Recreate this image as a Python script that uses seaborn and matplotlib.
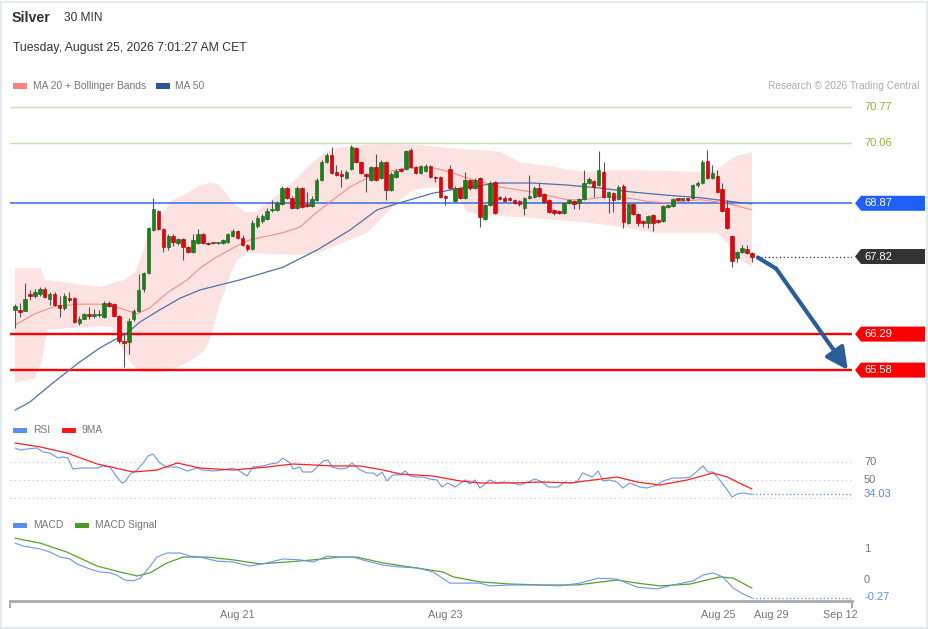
import numpy as np
import matplotlib
matplotlib.use('Agg')
import matplotlib.pyplot as plt
from matplotlib.patches import Polygon, Rectangle
from matplotlib.transforms import blended_transform_factory, Bbox, TransformedBbox
import seaborn as sns

# --- Silver 30 min candles (prices) ---
opens = [66.77, 66.77, 66.75, 67.08, 67.04, 67.08, 67.18, 66.98, 67.08, 66.86,
         66.81, 67.00, 67.00, 66.51, 66.59, 66.69, 66.65, 66.67, 66.63, 66.90,
         66.88, 66.65, 66.15, 66.13, 66.58, 66.75, 67.18, 67.50, 68.34, 68.72,
         68.36, 68.01, 68.23, 68.09, 68.17, 68.01, 67.91, 68.09, 68.27, 68.09,
         68.09, 68.08, 68.09, 68.11, 68.23, 68.32, 68.19, 68.05, 67.97, 68.42,
         68.52, 68.56, 68.74, 68.74, 68.86, 69.17, 68.98, 68.78, 69.17, 68.86,
         68.82, 68.94, 69.33, 69.68, 69.82, 69.49, 69.45, 69.37, 69.55, 69.96,
         69.68, 69.45, 69.33, 69.59, 69.37, 69.68, 69.13, 69.39, 69.55, 69.55,
         69.92, 69.59, 69.47, 69.51, 69.61, 69.39, 69.39, 69.01, 69.55, 68.92,
         69.17, 68.98, 69.33, 69.17, 69.37, 68.56, 68.84, 69.29, 68.98, 68.98,
         68.98, 68.94, 68.92, 68.78, 68.98, 69.00, 69.17, 69.05, 68.94, 68.74,
         68.72, 68.68, 68.88, 68.92, 68.88, 68.96, 69.27, 69.31, 69.23, 69.49,
         69.00, 69.07, 68.96, 69.21, 68.48, 68.86, 68.66, 68.52, 68.48, 68.64,
         68.54, 68.52, 68.80, 68.82, 68.96, 68.94, 68.96, 68.98, 69.23, 69.27,
         69.70, 69.37, 69.41, 69.15, 68.78, 68.23, 67.79, 67.91, 67.97, 67.89]
closes = [66.84, 66.73, 66.98, 67.04, 67.12, 67.18, 67.02, 67.08, 66.86, 66.81,
          67.04, 66.96, 66.53, 66.59, 66.69, 66.65, 66.69, 66.69, 66.90, 66.84,
          66.65, 66.15, 66.11, 66.55, 66.75, 67.16, 67.50, 68.38, 68.76, 68.36,
          68.01, 68.23, 68.11, 68.17, 68.01, 67.91, 68.15, 68.27, 68.09, 68.07,
          68.08, 68.09, 68.15, 68.27, 68.32, 68.19, 68.05, 67.97, 68.48, 68.58,
          68.62, 68.72, 68.76, 68.88, 69.17, 68.98, 68.78, 69.17, 68.80, 68.82,
          68.96, 69.33, 69.68, 69.82, 69.47, 69.43, 69.41, 69.49, 69.98, 69.68,
          69.47, 69.41, 69.59, 69.33, 69.68, 69.13, 69.45, 69.51, 69.51, 69.90,
          69.59, 69.47, 69.61, 69.61, 69.39, 69.37, 69.00, 68.98, 69.17, 69.17,
          68.98, 69.33, 69.17, 69.33, 68.60, 68.84, 69.27, 68.68, 68.96, 68.92,
          68.94, 68.88, 68.86, 68.98, 69.01, 69.17, 69.01, 68.90, 68.70, 68.68,
          68.68, 68.88, 68.94, 68.86, 68.96, 69.27, 69.35, 69.19, 69.53, 69.00,
          69.09, 68.94, 69.19, 68.50, 68.86, 68.66, 68.48, 68.48, 68.62, 68.48,
          68.50, 68.82, 68.84, 68.96, 68.94, 68.96, 68.94, 69.23, 69.27, 69.68,
          69.37, 69.47, 69.09, 68.72, 68.38, 67.73, 67.91, 67.99, 67.89, 67.82]
highs = [66.88, 66.90, 67.30, 67.16, 67.18, 67.22, 67.22, 67.12, 67.12, 67.04,
         67.10, 67.12, 67.02, 66.65, 66.71, 66.83, 66.79, 66.77, 66.94, 66.94,
         66.90, 66.67, 66.31, 66.61, 66.79, 67.48, 67.52, 68.40, 68.98, 68.74,
         68.38, 68.27, 68.27, 68.19, 68.19, 68.03, 68.27, 68.36, 68.29, 68.11,
         68.10, 68.10, 68.17, 68.29, 68.36, 68.34, 68.25, 68.07, 68.54, 68.64,
         68.66, 68.78, 68.94, 68.92, 69.21, 69.19, 69.01, 69.21, 69.19, 69.09,
         69.01, 69.37, 69.72, 69.86, 69.98, 69.63, 69.53, 69.53, 70.02, 69.98,
         69.70, 69.47, 69.61, 69.84, 69.72, 69.70, 69.49, 69.55, 69.57, 69.92,
         69.96, 69.61, 69.63, 69.65, 69.63, 69.41, 69.41, 69.03, 69.63, 69.21,
         69.19, 69.49, 69.35, 69.37, 69.39, 68.86, 69.31, 69.31, 69.01, 69.01,
         69.00, 68.96, 68.94, 69.00, 69.43, 69.21, 69.27, 69.07, 68.96, 68.76,
         68.74, 68.90, 68.96, 68.94, 68.98, 69.53, 69.39, 69.33, 69.90, 69.68,
         69.11, 69.09, 69.23, 69.25, 68.88, 68.88, 68.68, 68.54, 68.64, 68.66,
         68.56, 68.84, 68.86, 68.98, 68.98, 68.98, 68.98, 69.25, 69.31, 69.72,
         69.92, 69.63, 69.53, 69.27, 68.94, 68.25, 67.93, 68.05, 68.05, 67.91]
lows = [66.41, 66.63, 66.75, 66.96, 67.00, 67.04, 67.00, 66.86, 66.84, 66.63,
        66.77, 66.92, 66.51, 66.47, 66.58, 66.59, 66.61, 66.63, 66.61, 66.83,
        66.63, 66.11, 65.64, 65.90, 66.55, 66.73, 67.12, 67.48, 68.32, 68.34,
        67.91, 67.95, 68.03, 68.05, 67.75, 67.89, 67.89, 68.07, 68.07, 68.05,
        68.07, 68.07, 68.07, 68.09, 68.21, 68.17, 68.03, 67.93, 67.95, 68.38,
        68.48, 68.54, 68.70, 68.72, 68.84, 68.96, 68.76, 68.76, 68.78, 68.80,
        68.80, 68.92, 69.31, 69.66, 69.45, 69.41, 69.19, 69.35, 69.53, 69.66,
        69.45, 69.09, 69.31, 69.31, 69.35, 68.94, 69.11, 69.37, 69.49, 69.53,
        69.57, 69.45, 69.45, 69.49, 69.37, 69.29, 68.98, 68.84, 69.15, 68.90,
        68.96, 68.96, 69.13, 69.15, 68.40, 68.54, 68.82, 68.66, 68.94, 68.90,
        68.92, 68.86, 68.82, 68.64, 68.96, 68.98, 69.00, 68.88, 68.68, 68.64,
        68.66, 68.66, 68.86, 68.76, 68.76, 68.94, 69.25, 69.00, 69.21, 68.98,
        68.68, 68.70, 68.94, 68.38, 68.46, 68.64, 68.42, 68.40, 68.38, 68.32,
        68.48, 68.50, 68.78, 68.80, 68.92, 68.92, 68.92, 68.96, 69.19, 69.25,
        69.35, 69.35, 69.07, 68.70, 68.36, 67.61, 67.71, 67.89, 67.87, 67.71]

# Bollinger bands / moving averages (bar index, price)
bb_up_idx = [0, 5.1, 6.1, 17.2, 19.8, 22.2, 24.3, 25.7, 26.7, 29.3, 31.9, 34.8, 37.4, 39.4,
             41.0, 42.5, 44.5, 46.5, 48.5, 50.5, 53.6, 56.6, 59.6, 62.7, 65.7, 73.8, 81.9,
             87.9, 94.0, 98.1, 102.1, 106.1, 114.8, 122.3, 138.5, 141.9, 143.9, 145.2, 149.0]
bb_up = [67.59, 67.59, 67.36, 67.22, 67.30, 67.36, 67.52, 67.85, 68.21, 68.60, 68.94, 69.07,
         69.23, 69.27, 69.25, 69.09, 68.84, 68.70, 68.70, 68.84, 69.07, 69.33, 69.63, 69.88,
         69.98, 70.04, 70.02, 69.96, 69.92, 69.88, 69.68, 69.63, 69.49, 69.53, 69.49, 69.53,
         69.68, 69.78, 69.88]
bb_lo_idx = [0, 4.0, 5.5, 6.5, 11.1, 17.2, 19.8, 21.2, 23.3, 25.3, 30.3, 33.4, 36.4, 38.4,
             39.8, 41.0, 42.5, 43.9, 44.9, 46.9, 57.6, 61.1, 64.3, 71.2, 75.2, 77.8, 80.5,
             84.5, 87.9, 90.0, 91.4, 94.6, 104.1, 114.8, 122.9, 129.0, 141.9, 143.9, 145.2, 149.0]
bb_lo = [65.33, 65.42, 65.78, 66.37, 66.41, 66.45, 66.43, 66.08, 65.74, 65.54, 65.54, 65.66,
         65.82, 65.98, 66.27, 66.77, 67.16, 67.55, 67.75, 67.89, 67.85, 67.89, 68.01, 68.29,
         68.68, 68.94, 69.13, 69.19, 69.13, 68.94, 68.70, 68.64, 68.58, 68.50, 68.40, 68.29,
         68.29, 68.11, 67.85, 67.61]
ma20_idx = [0, 4.0, 8.1, 13.1, 17.2, 19.8, 22.2, 24.7, 27.3, 30.7, 34.8, 37.4, 40.4, 44.1,
            47.5, 54.2, 57.6, 61.1, 64.3, 67.7, 71.2, 75.2, 79.3, 84.5, 87.9, 91.4, 98.1,
            104.7, 111.6, 114.8, 119.7, 122.3, 128.4, 131.8, 138.5, 141.9, 145.2, 149.0]
ma20 = [66.47, 66.69, 66.84, 66.88, 66.88, 66.84, 66.77, 66.69, 66.81, 67.10, 67.36, 67.59,
        67.79, 67.99, 68.15, 68.29, 68.40, 68.70, 68.94, 69.19, 69.37, 69.49, 69.57, 69.57,
        69.49, 69.37, 69.19, 69.09, 68.94, 68.94, 69.00, 69.00, 68.90, 68.88, 68.94, 68.90,
        68.84, 68.74]
ma50_idx = [0, 3.0, 7.7, 13.1, 17.2, 22.6, 25.3, 29.3, 33.4, 37.4, 41.4, 45.5, 54.2, 61.1,
            67.7, 73.2, 77.8, 84.5, 91.4, 98.1, 104.7, 111.6, 118.3, 125.0, 131.8, 138.5,
            145.2, 149.0]
ma50 = [64.79, 64.95, 65.33, 65.74, 66.02, 66.31, 66.53, 66.77, 67.00, 67.16, 67.26, 67.36,
        67.61, 67.95, 68.34, 68.74, 68.88, 69.07, 69.19, 69.27, 69.27, 69.23, 69.17, 69.09,
        69.03, 68.98, 68.90, 68.86]

# key levels and forecast path
resist_levels = [70.77, 70.06]
pivot_level = 68.87
last_price = 67.82
support_levels = [66.29, 65.58]
fc_idx = [150.2, 153.9, 168.4]
fc_price = [67.80, 67.58, 65.58]

# RSI(14) and its 9 period MA
rsi_idx = [0.0, 1.0, 2.4, 4.4, 5.7, 7.1, 8.7, 9.7, 10.7, 11.7, 13.1, 14.6, 16.6, 17.8, 19.2,
           20.6, 21.6, 22.2, 23.3, 24.7, 25.9, 26.9, 27.9, 29.3, 30.7, 32.8, 34.8, 36.8, 38.0,
           40.0, 42.1, 43.9, 45.1, 46.9, 48.1, 50.1, 51.6, 53.0, 54.2, 55.6, 56.2, 57.6, 58.2,
           60.0, 61.1, 62.3, 63.3, 64.1, 65.7, 67.1, 68.1, 69.8, 71.2, 72.4, 73.2, 74.2, 75.2,
           76.4, 77.8, 78.9, 79.9, 81.3, 82.5, 83.9, 85.3, 86.3, 87.5, 89.0, 91.0, 92.0, 93.0,
           94.0, 96.0, 97.5, 98.7, 100.7, 102.1, 103.7, 105.1, 106.6, 107.8, 109.8, 111.2,
           112.6, 113.6, 114.8, 116.7, 117.9, 118.9, 120.3, 121.7, 122.9, 124.3, 126.4, 127.8,
           129.8, 131.0, 133.0, 135.1, 136.5, 137.5, 139.1, 140.1, 141.1, 142.5, 144.0, 145.0,
           146.0, 147.2, 149.0]
rsi = [85.6, 83.3, 84.4, 85.6, 81.1, 80.0, 74.4, 75.6, 74.4, 62.2, 63.3, 63.3, 63.3, 65.6, 64.4,
       53.3, 46.7, 47.8, 56.7, 61.1, 68.9, 76.7, 78.9, 68.9, 64.4, 64.4, 60.0, 63.3, 61.1,
       60.0, 61.1, 63.3, 61.1, 54.4, 64.4, 65.6, 67.8, 68.9, 74.4, 68.9, 62.2, 64.4, 58.9,
       58.9, 64.4, 71.1, 72.2, 64.4, 62.2, 63.3, 68.9, 61.1, 57.8, 57.8, 54.4, 58.9, 48.9,
       55.6, 55.6, 60.0, 54.4, 53.3, 53.3, 51.1, 50.0, 42.2, 46.7, 42.2, 50.0, 45.6, 50.0,
       41.1, 50.0, 46.7, 47.8, 46.7, 44.4, 47.8, 51.1, 47.8, 42.2, 42.2, 47.8,
       46.7, 47.8, 57.8, 53.3, 60.0, 48.9, 50.0, 47.8, 41.1, 46.7, 42.2, 41.1,
       44.4, 48.9, 52.2, 52.2, 53.3, 57.8, 65.6, 58.9, 58.9, 50.0, 38.9, 31.1,
       34.4, 35.6, 34.03]
rsi_ma_idx = [0, 5.1, 10.5, 16.6, 23.9, 28.7, 32.8, 37.4, 44.1, 50.9, 56.2, 64.3, 69.8, 74.4,
              77.8, 84.5, 90.0, 94.0, 100.1, 106.8, 112.2, 116.9, 121.7, 125.8, 130.4, 135.9,
              141.1, 144.0, 146.0, 149.0]
rsi_ma = [91.1, 86.7, 80.0, 67.8, 58.9, 61.1, 68.9, 63.3, 61.1, 64.4, 67.8, 65.6, 65.6, 61.1,
          56.7, 54.4, 48.9, 46.7, 46.7, 47.8, 46.7, 50.0, 53.3, 47.8, 44.4, 50.0, 57.8, 53.3,
          47.8, 40.0]
rsi_levels = [70, 50, 30]

# MACD and signal
macd_idx = [0, 1.6, 5.1, 7.1, 9.1, 11.1, 12.5, 15.2, 17.2, 19.2, 20.6, 22.2, 23.9, 25.3, 26.7,
            28.7, 30.7, 33.4, 35.4, 37.4, 40.8, 44.1, 47.5, 50.9, 54.2, 57.6, 60.3, 63.1, 65.7,
            68.3, 71.2, 74.4, 77.8, 81.3, 84.5, 87.9, 90.0, 94.0, 96.0, 100.1, 105.5, 110.2,
            114.2, 117.9, 121.7, 125.8, 129.8, 133.0, 137.1, 139.1, 141.1, 143.1, 145.2, 147.2,
            149.0]
macd = [1.19, 1.10, 1.00, 0.90, 0.74, 0.68, 0.52, 0.35, 0.26, 0.23, 0.16, 0.00, -0.03, 0.06,
        0.32, 0.74, 0.87, 0.87, 0.77, 0.74, 0.61, 0.58, 0.45, 0.55, 0.68, 0.65, 0.58, 0.77,
        0.74, 0.74, 0.61, 0.48, 0.42, 0.39, 0.26, -0.10, -0.10, -0.10, -0.19, -0.16, -0.16,
        -0.19, -0.10, 0.06, 0.03, -0.23, -0.29, -0.16, -0.03, 0.16, 0.23, 0.10, -0.26, -0.45,
        -0.58]
sig_idx = [0, 5.1, 10.5, 16.6, 21.2, 24.7, 27.3, 30.7, 34.0, 38.8, 44.1, 49.5, 55.0, 60.3,
           65.7, 69.1, 74.4, 79.9, 86.5, 88.6, 92.0, 94.0, 100.1, 106.8, 113.6, 121.7, 125.8,
           130.4, 136.5, 142.5, 145.2, 149.0]
macd_sig = [1.35, 1.19, 0.90, 0.45, 0.26, 0.13, 0.23, 0.55, 0.74, 0.74, 0.65, 0.52, 0.58,
            0.65, 0.74, 0.74, 0.55, 0.42, 0.26, 0.10, 0.00, -0.06, -0.13, -0.16, -0.16, 0.00,
            -0.10, -0.19, -0.13, 0.10, 0.06, -0.26]
macd_last_label = '-0.27'

date_ticks = [44.9, 87.0, 142.1, 152.9, 166.8]
date_labels = ['Aug 21', 'Aug 23', 'Aug 25', 'Aug 29', 'Sep 12']

# ---------------------------------------------------------------
sns.set_theme(style='white')
plt.rcParams['font.family'] = ['Liberation Sans', 'DejaVu Sans']

W, H = 929, 629
fig = plt.figure(figsize=(W / 100, H / 100), dpi=100)
fig.patch.set_facecolor('white')
fig.patches.append(Rectangle((0.001, 0.002), 0.997, 0.995, transform=fig.transFigure,
                             fill=False, edgecolor='#e4eaef', lw=1.5))


def px_axes(x0, y0, x1, y1):
    a = fig.add_axes([x0 / W, 1 - y1 / H, (x1 - x0) / W, (y1 - y0) / H])
    a.set_facecolor('none')
    for s in a.spines.values():
        s.set_visible(False)
    a.set_xticks([])
    a.set_yticks([])
    return a


def ftext(x, y, s, **kw):
    return fig.text(x / W, 1 - y / H, s, va='center', **kw)


def fkey(x, y, color):
    fig.patches.append(Rectangle((x / W, 1 - (y + 2.5) / H), 14 / W, 5 / H,
                                 transform=fig.transFigure, color=color, lw=0))


XMIN, XMAX = -1.011, 169.23
GREY = '#777777'
LAB = 8

# header
ftext(12, 18, 'Silver', fontsize=10.3, fontweight='bold', color='#333333')
ftext(64, 18, '30 MIN', fontsize=8.6, color='#333333')
ftext(13, 48, 'Tuesday, August 25, 2026 7:01:27 AM CET', fontsize=8.8, color='#333333')
fkey(13, 86, '#ff8080')
ftext(33, 86, 'MA 20 + Bollinger Bands', fontsize=7.4, color=GREY)
fkey(156, 86, '#2e5597')
ftext(175, 86, 'MA 50', fontsize=7.4, color=GREY)
ftext(920, 86, 'Research \u00a9 2026 Trading Central', fontsize=7.3, color='#aaaaaa', ha='right')

# ---------------- price panel ----------------
ax = px_axes(10, 95, 852, 418)
ax.set_xlim(XMIN, XMAX)
ax.set_ylim(64.635, 71.006)

band_x = np.concatenate([bb_up_idx, bb_lo_idx[::-1]])
band_y = np.concatenate([bb_up, bb_lo[::-1]])
ax.fill(band_x, band_y, color='#fde2e2', lw=0, zorder=1)

for lv in resist_levels:
    ax.axhline(lv, color='#c6e0b0', lw=1, zorder=2)
ax.axhline(pivot_level, color='#2f6fe8', lw=1.1, zorder=2)
for lv in support_levels:
    ax.axhline(lv, color='#ff0000', lw=1.7, zorder=2)

sns.lineplot(x=ma20_idx, y=ma20, ax=ax, color='#f28b8b', lw=0.8, zorder=3)
sns.lineplot(x=ma50_idx, y=ma50, ax=ax, color='#4d72aa', lw=0.9, zorder=3)

o = np.array(opens)
c = np.array(closes)
idx = np.arange(len(o))
up = c >= o
ax.vlines(idx, lows, highs, color='#555555', lw=0.8, zorder=4)
body = np.maximum(np.abs(c - o), 0.025)
ax.bar(idx[up], body[up], bottom=o[up], width=0.72, color='#1c7f1c',
       edgecolor='#175e17', lw=0.4, zorder=5)
ax.bar(idx[~up], body[~up], bottom=c[~up], width=0.72, color='#e8000b',
       edgecolor='#a00000', lw=0.4, zorder=5)

ax.plot([idx[-1] + 1.0, XMAX], [last_price, last_price], color='#333333', lw=0.9,
        ls=(0, (1, 2)), zorder=3)

arrow_c = '#2d5c9a'
ax.plot(fc_idx[:2], fc_price[:2], color=arrow_c, lw=3, solid_capstyle='round', zorder=6)
ax.annotate('', xy=(fc_idx[2], fc_price[2]), xytext=(fc_idx[1], fc_price[1]),
            arrowprops=dict(arrowstyle='-|>,head_length=1.1,head_width=0.55', color=arrow_c,
                            lw=3, shrinkA=0, shrinkB=0), zorder=6)

tr = blended_transform_factory(ax.transAxes, ax.transData)
hh = 7.5 / 50.7
for lv in resist_levels:
    ax.text(1.0143, lv, f'{lv:.2f}', transform=tr, va='center', ha='left',
            fontsize=LAB, color='#8cb43c', clip_on=False)
for lv, col in [(pivot_level, '#1f5fff'), (last_price, '#333333'),
                (support_levels[0], '#ff0000'), (support_levels[1], '#ff0000')]:
    poly = Polygon([(1.0036, lv), (1.0107, lv + hh), (1.0867, lv + hh),
                    (1.0867, lv - hh), (1.0107, lv - hh)], closed=True,
                   transform=tr, color=col, lw=0, clip_on=False)
    ax.add_patch(poly)
    ax.text(1.0143, lv, f'{lv:.2f}', transform=tr, va='center', ha='left',
            fontsize=LAB, color='white', clip_on=False)

# ---------------- RSI panel ----------------
fkey(13, 430, '#5b8def')
ftext(33, 430, 'RSI', fontsize=7.4, color=GREY)
fkey(62, 430, '#ff1a1a')
ftext(82, 430, '9MA', fontsize=7.4, color=GREY)

ax_r = px_axes(10, 438, 852, 505)
ax_r.set_xlim(XMIN, XMAX)
ax_r.set_ylim(22.22, 96.67)
for lv in rsi_levels:
    ax_r.axhline(lv, color='#c4c4c4', lw=0.8, ls=(0, (1, 3)), zorder=1)
sns.lineplot(x=rsi_idx, y=rsi, ax=ax_r, color='#6d95ea', lw=0.8, zorder=3)
sns.lineplot(x=rsi_ma_idx, y=rsi_ma, ax=ax_r, color='#ff2020', lw=0.9, zorder=3)
ax_r.plot([rsi_idx[-1], XMAX], [rsi[-1], rsi[-1]], color='#5b8def', lw=0.9,
          ls=(0, (1, 2)), zorder=2)
trr = blended_transform_factory(ax_r.transAxes, ax_r.transData)
for lv in rsi_levels[:2]:
    ax_r.text(1.0143, lv, str(lv), transform=trr, va='center', fontsize=LAB,
              color=GREY, clip_on=False)
# the 30 level label sits under the 34.03 tag, only its lower edge shows
t30 = ax_r.text(1.0143, rsi_levels[2], str(rsi_levels[2]), transform=trr, va='center',
                fontsize=LAB, color=GREY, zorder=1)
t30.set_clip_box(TransformedBbox(Bbox([[0, 1 - 504.5 / H], [1, 1 - 500.5 / H]]),
                                 fig.transFigure))
t30.set_clip_on(True)
ax_r.text(1.0143, rsi[-1], f'{rsi[-1]:.2f}', transform=trr, va='center', fontsize=LAB,
          color='#5b8def', clip_on=False, zorder=5)

# ---------------- MACD panel ----------------
fkey(13, 525, '#5b8def')
ftext(33, 525, 'MACD', fontsize=7.4, color=GREY)
fkey(75, 525, '#4c9a2a')
ftext(95, 525, 'MACD Signal', fontsize=7.4, color=GREY)

ax_m = px_axes(10, 530, 852, 601)
ax_m.set_xlim(XMIN, XMAX)
ax_m.set_ylim(-0.677, 1.613)
sns.lineplot(x=sig_idx, y=macd_sig, ax=ax_m, color='#5aa02c', lw=0.9, zorder=3)
sns.lineplot(x=macd_idx, y=macd, ax=ax_m, color='#6d95ea', lw=0.8, zorder=3)
ax_m.plot([macd_idx[-1], XMAX], [macd[-1], macd[-1]], color='#5b8def', lw=0.9,
          ls=(0, (1, 2)), zorder=2)
trm = blended_transform_factory(ax_m.transAxes, ax_m.transData)
for lv in [1, 0]:
    ax_m.text(1.0143, lv, str(lv), transform=trm, va='center', fontsize=LAB,
              color=GREY, clip_on=False)
ax_m.text(1.0143, macd[-1] + 0.03, macd_last_label, transform=trm, va='center',
          fontsize=LAB, color='#5b8def', clip_on=False)

ax_m.spines['bottom'].set_visible(True)
ax_m.spines['bottom'].set_color('#aaaaaa')
ax_m.spines['bottom'].set_linewidth(2)
ax_m.set_xticks(date_ticks)
ax_m.set_xticklabels(date_labels)
ax_m.set_xticks([XMIN, XMAX], minor=True)
ax_m.tick_params(axis='x', which='major', length=0, pad=6.5, labelsize=7.8, labelcolor=GREY)
ax_m.tick_params(axis='x', which='minor', length=5, width=1.5, color='#aaaaaa',
                 direction='out', bottom=True)
for a in (ax, ax_r, ax_m):
    a.set_xlabel('')
    a.set_ylabel('')

fig.savefig('out.png', dpi=100, facecolor='white')
